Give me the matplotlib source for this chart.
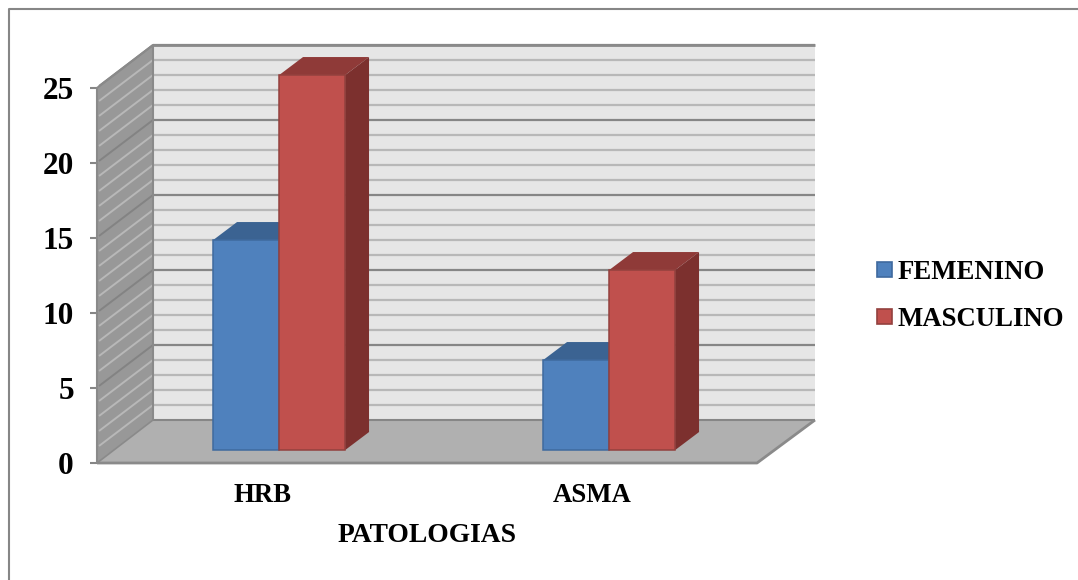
import numpy as np
import matplotlib
matplotlib.use("Agg")
import matplotlib.pyplot as plt
from matplotlib.lines import Line2D
from matplotlib.patches import Patch, Polygon

plt.rcParams['font.family'] = ['Liberation Serif', 'DejaVu Serif']
plt.rcParams['font.weight'] = 'bold'

categories = ['HRB', 'ASMA']
femenino = [14, 6]
masculino = [25, 12]
y_ticks = [0, 5, 10, 15, 20, 25]
y_max = 25

W, H = 1078, 580
PX_X = 330.0  # pixels per category
PX_Y = 15.0   # pixels per unit of value

fig = plt.figure(figsize=(W / 100, H / 100), dpi=100, facecolor='white')
ax = fig.add_axes([97 / W, 1 - 463 / H, 660 / W, 375 / H])
ax.set_xlim(0.5, 2.5)
ax.set_ylim(0, y_max)
ax.patch.set_visible(False)
for s in ax.spines.values():
    s.set_visible(False)

# 3d depth of the box, in data units
dx_l, dx_r, dy = 56 / PX_X, 58 / PX_X, 43 / PX_Y
x0, x1 = 0.5, 2.5


def poly(pts, fc, ec='none', lw=0, z=1):
    ax.add_patch(Polygon(pts, closed=True, facecolor=fc, edgecolor=ec,
                         linewidth=lw, zorder=z, clip_on=False))


def line(xs, ys, color, lw, z=2):
    ax.plot(xs, ys, color=color, linewidth=lw, zorder=z, clip_on=False,
            solid_capstyle='butt')


# walls and floor
poly([(x0 + dx_l, dy), (x1 + dx_r, dy), (x1 + dx_r, y_max + dy), (x0 + dx_l, y_max + dy)], '#e6e6e6')
poly([(x0, 0), (x0 + dx_l, dy), (x0 + dx_l, y_max + dy), (x0, y_max)], '#989898', z=1.2)

# gridlines
for v in range(1, y_max + 1):
    major = v % 5 == 0
    line([x0 + dx_l, x1 + dx_r], [v + dy, v + dy], '#868686' if major else '#b8b8b8', 1.6)
    line([x0 + 2 / PX_X, x0 + dx_l], [v + 2 / PX_Y, v + dy], '#838383' if major else '#b8b8b8', 1.4)

poly([(x0, 0), (x1, 0), (x1 + dx_r, dy), (x0 + dx_l, dy)], '#b0b0b0', z=3)
line([x0 + dx_l, x1 + dx_r], [dy, dy], '#868686', 1.5, z=3.1)
line([x0, x1, x1 + dx_r], [0, 0, dy], '#8a8a8a', 2, z=3.1)
line([x0, x0 + dx_l], [0, dy], '#8a8a8a', 1.2, z=3.1)
line([x0, x0, x0 + dx_l, x0 + dx_l], [0, y_max, y_max + dy, dy], '#8a8a8a', 1.5, z=3.1)
line([x0 + dx_l, x1 + dx_r], [y_max + dy, y_max + dy], '#8a8a8a', 2, z=3.1)


# bars
bar_w = 0.2
front = 0.3  # depth fraction of the bar front
back = 0.72
fx, fy = front * 57 / PX_X, front * dy
bx, by = (back - front) * 57 / PX_X, (back - front) * dy


def bar3d(left, val, front_c, top_c, side_c, edge_c, z):
    xl = left + fx
    xr = xl + bar_w
    yb = fy
    yt = fy + val
    poly([(xl, yt), (xr, yt), (xr + bx, yt + by), (xl + bx, yt + by)], top_c, z=z)
    poly([(xr, yb), (xr + bx, yb + by), (xr + bx, yt + by), (xr, yt)], side_c, z=z)
    ax.bar(xl, val, width=bar_w, bottom=yb, align='edge', color=front_c,
           edgecolor=edge_c, linewidth=1.1, zorder=z + 0.1, clip_on=False)


xpos = np.arange(1, len(categories) + 1)
for i, c in enumerate(xpos):
    bar3d(c - bar_w, femenino[i], '#4f81bd', '#3b6392', '#3b6392', '#3f6a9e', 4 + i)
    bar3d(c, masculino[i], '#c0504d', '#8f3a38', '#7c302e', '#93413e', 4.5 + i)

# axes text
ax.set_yticks(y_ticks)
ax.set_yticklabels([str(t) for t in y_ticks], fontsize=22.5, fontweight='bold')
ax.tick_params(axis='y', length=5, width=1.5, color='#868686', pad=11.6)
ax.set_xticks(xpos)
ax.set_xticklabels(categories, fontsize=19.3, fontweight='bold')
ax.tick_params(axis='x', length=0, pad=14.6)
ax.set_xlabel('PATOLOGIAS', fontsize=19.8, fontweight='bold', labelpad=10.5)

handles = [Patch(facecolor='#4f81bd', edgecolor='#3f6a9e', linewidth=1.2),
           Patch(facecolor='#c0504d', edgecolor='#93413e', linewidth=1.2)]
fig.legend(handles, ['FEMENINO', 'MASCULINO'], loc='center left',
           bbox_to_anchor=(877 / W, 1 - 296 / H), frameon=False,
           handlelength=0.55, handleheight=0.5, handletextpad=0.22,
           labelspacing=0.8, borderpad=0, borderaxespad=0,
           prop={'family': 'Liberation Serif', 'weight': 'bold', 'size': 19.3})

# outer frame
fig.add_artist(Line2D([8.5 / W, 8.5 / W, 1], [0, 1 - 8.5 / H, 1 - 8.5 / H], color='#868686', linewidth=1.5))

fig.savefig('out.png', dpi=100)
